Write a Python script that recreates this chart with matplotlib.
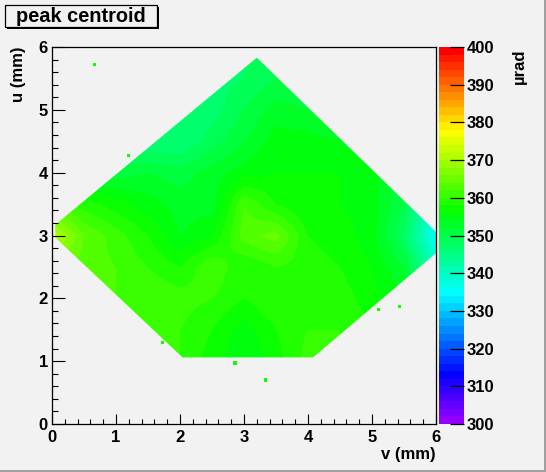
import numpy as np
import matplotlib
matplotlib.use('Agg')
import matplotlib.pyplot as plt
from matplotlib.colors import ListedColormap, Normalize
from matplotlib.patches import Polygon, Rectangle
import colorsys

# ---------------- data ----------------
v_grid = [0.0, 0.5, 1.0, 1.5, 2.0, 2.5, 3.0, 3.5, 4.0, 4.5, 5.0, 5.5, 6.0]
u_grid = [1.0, 1.5, 2.0, 2.5, 3.0, 3.5, 4.0, 4.5, 5.0, 5.5, 6.0]
# peak centroid (urad); rows follow u_grid, columns follow v_grid
centroid = [
    [362, 362, 361, 361, 360, 357, 354, 357, 361, 360, 358, 356, 350],
    [362, 362, 362, 360, 360, 358, 355, 358, 360, 360, 358, 356, 348],
    [363, 363, 362, 362, 361, 360, 358, 360, 360, 359, 357, 354, 345],
    [365, 363, 362, 360, 358, 362, 358, 360, 359, 358, 356, 352, 340],
    [372, 364, 361, 358, 354, 356, 363, 365, 358, 357, 355, 348, 335],
    [362, 359, 357, 355, 353, 353, 362, 358, 356, 356, 355, 350, 338],
    [354, 352, 351, 352, 351, 353, 355, 356, 356, 356, 355, 350, 340],
    [348, 347, 346, 346, 346, 349, 352, 355, 355, 354, 352, 348, 340],
    [346, 346, 346, 346, 346, 347, 350, 353, 352, 350, 348, 345, 340],
    [346, 346, 346, 346, 346, 347, 348, 350, 350, 348, 346, 345, 340],
    [346, 346, 346, 346, 346, 347, 348, 350, 350, 348, 346, 345, 340],
]
# outline of the measured region (v, u in mm)
edge_v = [0.05, 3.20, 6.00, 6.00, 4.08, 2.04, 0.05]
edge_u = [3.17, 5.83, 3.06, 2.72, 1.06, 1.06, 2.97]
# isolated cells outside the region
dot_v = [0.67, 1.20, 1.73, 2.86, 3.33, 5.10, 5.43]
dot_u = [5.72, 4.28, 1.29, 0.97, 0.70, 1.82, 1.87]
dot_val = [356, 357, 358, 357, 358, 357, 357]

z_min, z_max = 300, 400
n_colors = 50
cbar_ticks = list(range(300, 401, 10))
x_ticks = [0, 1, 2, 3, 4, 5, 6]
y_ticks = [0, 1, 2, 3, 4, 5, 6]

# ---------------- style ----------------
W, H = 546, 472
bg = '#f2f2f2'
plt.rcParams['font.family'] = ['Liberation Sans', 'DejaVu Sans']
plt.rcParams['font.weight'] = 'bold'
fs = 12

palette = [colorsys.hls_to_rgb((280 - (i + 1) * 280.0 / n_colors) / 360.0, 0.5, 1.0)
           for i in range(n_colors)]
cmap = ListedColormap(palette)
norm = Normalize(z_min, z_max)

fig = plt.figure(figsize=(W / 100, H / 100), dpi=100, facecolor=bg)

def fx(px):
    return px / W

def fy(py):
    return 1 - py / H

ax = fig.add_axes([fx(52), fy(424), fx(436) - fx(52), fy(47) - fy(424)])
ax.set_facecolor(bg)

z = np.array(centroid, dtype=float)
dv = (v_grid[1] - v_grid[0]) / 2
du = (u_grid[1] - u_grid[0]) / 2
im = ax.imshow(z, origin='lower', cmap=cmap, norm=norm, interpolation='bilinear',
               interpolation_stage='data', aspect='auto',
               extent=[v_grid[0] - dv, v_grid[-1] + dv, u_grid[0] - du, u_grid[-1] + du])
region = Polygon(list(zip(edge_v, edge_u)), closed=True, facecolor='none',
                 edgecolor='none', transform=ax.transData)
ax.add_patch(region)
im.set_clip_path(region)

ax.scatter(dot_v, dot_u, c=dot_val, cmap=cmap, norm=norm, marker='s', s=5,
           linewidths=0, zorder=3)

ax.set_xlim(0, 6)
ax.set_ylim(0, 6)
ax.set_xticks(x_ticks)
ax.set_yticks(y_ticks)
ax.set_xticks(np.arange(0, 6.01, 0.2), minor=True)
ax.set_yticks(np.arange(0, 6.01, 0.2), minor=True)
ax.tick_params(axis='both', which='both', direction='in', color='black', width=0.8)
ax.tick_params(axis='x', which='major', length=7.5, pad=4, labelsize=fs)
ax.tick_params(axis='x', which='minor', length=3.8)
ax.tick_params(axis='y', which='major', length=9, pad=3, labelsize=fs)
ax.tick_params(axis='y', which='minor', length=4.5)
for lab in ax.get_xticklabels() + ax.get_yticklabels():
    lab.set_fontweight('bold')
for s in ax.spines.values():
    s.set_linewidth(0.9)

fig.text(fx(436), fy(455), 'v (mm)', ha='right', va='center', fontsize=fs,
         fontweight='bold')
fig.text(fx(19), fy(47), 'u (mm)', ha='center', va='top', rotation=90,
         fontsize=fs, fontweight='bold')

# colour scale
cax = fig.add_axes([fx(439), fy(424), fx(464) - fx(439), fy(47) - fy(424)])
cb = fig.colorbar(im, cax=cax, ticks=cbar_ticks)
cb.outline.set_visible(False)
cax.tick_params(axis='y', which='major', direction='in', length=10, width=0.9,
                pad=2, labelsize=fs, color='black')
cax.minorticks_off()
for lab in cax.get_yticklabels():
    lab.set_fontweight('bold')
fig.text(fx(519), fy(48), 'µrad', ha='center', va='top', rotation=90,
         fontsize=fs, fontweight='bold')

# title box with shadow
fig.patches.append(Rectangle((fx(7), fy(29)), fx(157) - fx(5), fy(5) - fy(27),
                             transform=fig.transFigure, facecolor='black',
                             edgecolor='none', zorder=5))
fig.patches.append(Rectangle((fx(5), fy(27)), fx(157) - fx(5), fy(5) - fy(27),
                             transform=fig.transFigure, facecolor=bg,
                             edgecolor='black', linewidth=0.9, zorder=6))
fig.text(fx(81), fy(16), 'peak centroid', ha='center', va='center',
         fontsize=14.4, fontweight='bold', zorder=7)

# canvas bevel on right and bottom
fig.patches.append(Rectangle((0, 0), 1, 2 / H, transform=fig.transFigure,
                             facecolor='#a0a0a0', edgecolor='none', zorder=4))
fig.patches.append(Rectangle((1 - 2 / W, 0), 2 / W, 1, transform=fig.transFigure,
                             facecolor='#a0a0a0', edgecolor='none', zorder=4))

fig.savefig('out.png', dpi=100, facecolor=bg)
